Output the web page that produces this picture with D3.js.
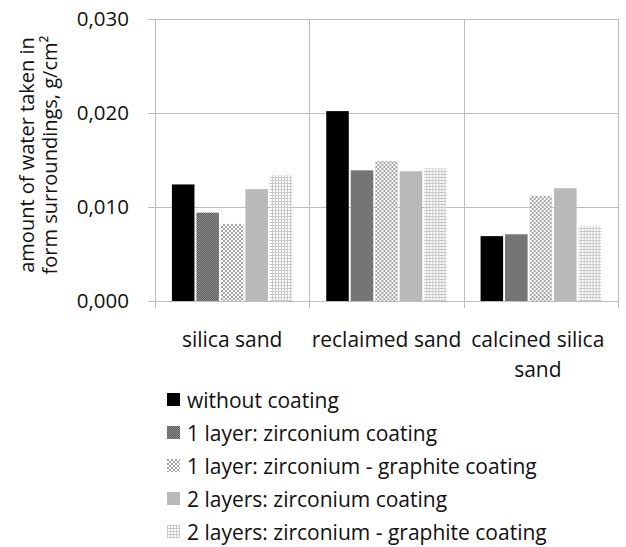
<!DOCTYPE html>
<html>
<head>
<meta charset="utf-8">
<script src="https://cdn.jsdelivr.net/npm/d3@7"></script>
<style>
  html, body { margin: 0; padding: 0; background: #fff; }
  svg { display: block; font-family: "Open Sans", sans-serif; }
</style>
</head>
<body>
<svg id="chart" width="626" height="547"></svg>
<script>
// Sand types on the x axis
const categories = ["silica sand", "reclaimed sand", "calcined silica sand"];
const categoryLines = [["silica sand"], ["reclaimed sand"], ["calcined silica", "sand"]];

// Coating variants (one bar each per sand type)
const seriesNames = [
  "without coating",
  "1 layer: zirconium coating",
  "1 layer: zirconium - graphite coating",
  "2 layers: zirconium coating",
  "2 layers: zirconium - graphite coating"
];

// Water taken in from the form surroundings, g/cm², per sand type
const withoutCoating      = [0.0124, 0.0202, 0.0069];
const oneLayerZirconium   = [0.0094, 0.0139, 0.0071];
const oneLayerZrGraphite  = [0.0082, 0.0149, 0.0112];
const twoLayersZirconium  = [0.0119, 0.0138, 0.0120];
const twoLayersZrGraphite = [0.0134, 0.0141, 0.0080];
const seriesValues = [withoutCoating, oneLayerZirconium, oneLayerZrGraphite, twoLayersZirconium, twoLayersZrGraphite];

const yTicks = [0, 0.01, 0.02, 0.03];
const yTickLabels = ["0,000", "0,010", "0,020", "0,030"];

const svg = d3.select("#chart");
const plotLeft = 155, plotRight = 618, plotTop = 19, plotBottom = 301;

// Fill patterns for the five series
const defs = svg.append("defs");
function pattern(id, w, h, bg, rects) {
  const p = defs.append("pattern").attr("id", id)
    .attr("patternUnits", "userSpaceOnUse").attr("width", w).attr("height", h);
  p.append("rect").attr("width", w).attr("height", h).attr("fill", bg);
  rects.forEach(r => p.append("rect").attr("x", r[0]).attr("y", r[1])
    .attr("width", r[2]).attr("height", r[3]).attr("fill", r[4]));
}
pattern("p-dark", 2, 2, "#8c8c8c", [[0, 0, 1, 1, "#5e5e5e"], [1, 1, 1, 1, "#5e5e5e"]]);
pattern("p-check", 4, 4, "#ffffff", [[0, 0, 2, 2, "#a4a4a4"], [2, 2, 2, 2, "#a4a4a4"]]);
pattern("p-grid", 3, 3, "#ffffff", [[0, 0, 3, 1, "#c9c9c9"], [0, 0, 1, 3, "#c9c9c9"]]);
const fills = ["#000000", "url(#p-dark)", "url(#p-check)", "#b9b9b9", "url(#p-grid)"];

const x = d3.scaleBand().domain(categories).range([plotLeft, plotRight]).padding(0);
const xs = d3.scaleBand().domain(d3.range(seriesNames.length))
  .range([0, x.bandwidth()]).paddingInner(0.08).paddingOuter(0.69);
const y = d3.scaleLinear().domain([0, 0.03]).range([plotBottom, plotTop]);

const gridColor = "#bdbdbd";

// Horizontal gridlines with left ticks
svg.append("g").selectAll("line").data(yTicks).join("line")
  .attr("x1", plotLeft - 7).attr("x2", plotRight)
  .attr("y1", d => Math.round(y(d)) + 0.5).attr("y2", d => Math.round(y(d)) + 0.5)
  .attr("stroke", gridColor).attr("stroke-width", 1);

// Vertical category dividers extending below the axis as ticks
const dividers = categories.map(c => x(c)).concat([plotRight]);
svg.append("g").selectAll("line").data(dividers).join("line")
  .attr("x1", d => Math.round(d) + 0.5).attr("x2", d => Math.round(d) + 0.5)
  .attr("y1", plotTop).attr("y2", plotBottom + 7)
  .attr("stroke", gridColor).attr("stroke-width", 1);

// Bars
const groups = svg.append("g").selectAll("g").data(categories).join("g")
  .attr("transform", c => `translate(${x(c)},0)`);
groups.selectAll("rect")
  .data((c, ci) => seriesValues.map((vals, si) => ({ si, v: vals[ci] })))
  .join("rect")
  .attr("x", d => xs(d.si))
  .attr("width", xs.bandwidth())
  .attr("y", d => y(d.v))
  .attr("height", d => plotBottom - y(d.v))
  .attr("fill", d => fills[d.si]);

// Y tick labels
svg.append("g").selectAll("text").data(yTicks).join("text")
  .attr("x", 129).attr("y", d => y(d))
  .attr("dy", "0.35em")
  .attr("text-anchor", "end")
  .attr("font-size", 20.5).attr("fill", "#111")
  .text((d, i) => yTickLabels[i]);

// Y axis title (two lines)
const yTitle = svg.append("text")
  .attr("transform", "translate(0,155) rotate(-90)")
  .attr("text-anchor", "middle").attr("font-size", 20).attr("fill", "#111");
yTitle.append("tspan").attr("x", 0).attr("y", 34).text("amount of water taken in");
yTitle.append("tspan").attr("x", 0).attr("y", 57).text("form surroundings, g/cm²");

// Category labels
svg.append("g").selectAll("text").data(categories).join("text")
  .attr("text-anchor", "middle").attr("font-size", 21).attr("fill", "#111")
  .each(function(c, i) {
    const t = d3.select(this);
    categoryLines[i].forEach((line, li) => {
      t.append("tspan").attr("x", x(c) + x.bandwidth() / 2 - (i === 2 ? 3 : 0))
        .attr("y", 347 + li * 30).text(line);
    });
  });

// Legend
const legend = svg.append("g").selectAll("g").data(seriesNames).join("g")
  .attr("transform", (d, i) => `translate(167,${393 + i * 33})`);
legend.append("rect").attr("width", 13).attr("height", 13)
  .attr("fill", (d, i) => fills[i]);
legend.append("text").attr("x", 20).attr("y", 15)
  .attr("font-size", 21).attr("fill", "#111").text(d => d);
</script>
</body>
</html>
